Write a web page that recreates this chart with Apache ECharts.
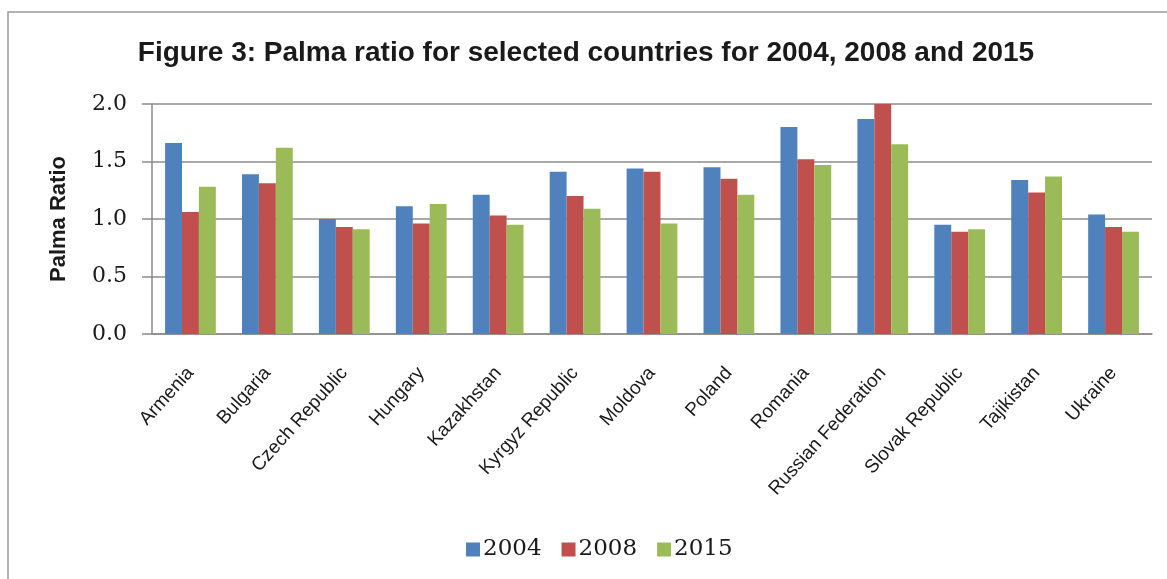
<!DOCTYPE html>
<html>
<head>
<meta charset="utf-8">
<script src="https://cdn.jsdelivr.net/npm/echarts@6/dist/echarts.min.js"></script>
<style>
html,body{margin:0;padding:0;background:#fff;}
#c{width:1167px;height:579px;}
</style>
</head>
<body>
<div id="c"></div>
<script>
var categories = ["Armenia","Bulgaria","Czech Republic","Hungary","Kazakhstan","Kyrgyz Republic","Moldova","Poland","Romania","Russian Federation","Slovak Republic","Tajikistan","Ukraine"];
var s2004 = [1.66,1.39,1.00,1.11,1.21,1.41,1.44,1.45,1.80,1.87,0.95,1.34,1.04];
var s2008 = [1.06,1.31,0.93,0.96,1.03,1.20,1.41,1.35,1.52,2.00,0.89,1.23,0.93];
var s2015 = [1.28,1.62,0.91,1.13,0.95,1.09,0.96,1.21,1.47,1.65,0.91,1.37,0.89];
var yTicks = [0, 0.5, 1.0, 1.5, 2.0];

var chart = echarts.init(document.getElementById('c'), null, {renderer:'canvas'});
var sans = '"Liberation Sans", Arial, sans-serif';
function bar(name, data, color){
  return {name:name, type:'bar', data:data, barGap:'0%', barCategoryGap:'34%',
    itemStyle:{color:color}};
}
chart.setOption({
  animation:false,
  backgroundColor:'#ffffff',
  graphic:[{type:'rect', shape:{x:8, y:12, width:1170, height:580},
    style:{fill:'none', stroke:'#9a9a9a', lineWidth:1.5}, silent:true}],
  title:{text:'Figure 3: Palma ratio for selected countries for 2004, 2008 and 2015',
    left:581, top:34, textAlign:'center',
    textStyle:{fontFamily:sans, fontSize:28, fontWeight:'bold', color:'#1a1a1a'}},
  legend:{data:['2004','2008','2015'], left:461, top:533, itemWidth:14, itemHeight:14,
    itemGap:20, icon:'rect',
    textStyle:{fontFamily:'"DejaVu Serif", serif', fontSize:23, color:'#1a1a1a', padding:[0,0,0,-2]}},
  grid:{left:152, right:15, top:104, bottom:245, containLabel:false},
  xAxis:{type:'category', data:categories,
    axisLine:{lineStyle:{color:'#8c8c8c', width:1.5}},
    axisTick:{show:false},
    axisLabel:{rotate:48, interval:0, margin:36, fontFamily:sans, fontSize:19, color:'#1a1a1a'}},
  yAxis:{type:'value', min:0, max:2, interval:0.5,
    name:'Palma Ratio', nameLocation:'middle', nameGap:82,
    nameTextStyle:{fontFamily:sans, fontSize:22, fontWeight:'bold', color:'#1a1a1a'},
    axisLine:{show:true, lineStyle:{color:'#8c8c8c', width:1.5}},
    axisTick:{show:true, inside:false, length:10, lineStyle:{color:'#8c8c8c', width:1.5}},
    splitLine:{lineStyle:{color:'#8c8c8c', width:1.5}},
    axisLabel:{margin:25, fontFamily:'"DejaVu Serif", serif', fontSize:22, color:'#1a1a1a',
      formatter:function(v){return v.toFixed(1);}}},
  series:[bar('2004', s2004, '#4F81BD'), bar('2008', s2008, '#C0504D'), bar('2015', s2015, '#9BBB59')]
});
</script>
</body>
</html>
